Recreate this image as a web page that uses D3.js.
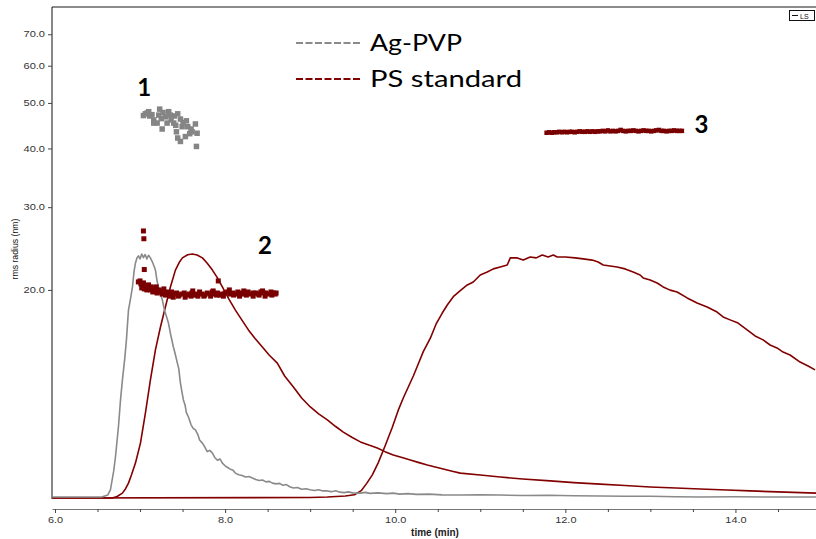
<!DOCTYPE html>
<html><head><meta charset="utf-8">
<script src="https://cdn.jsdelivr.net/npm/d3@7"></script>
<style>body{margin:0;background:#fff}svg{display:block}</style>
</head><body>
<svg id="c" width="816" height="539"></svg>
<script>
// ---- data ----
const xTicks = [6, 8, 10, 12, 14];
const xMinorTicks = [6.5, 7, 7.5, 8.5, 9, 9.5, 10.5, 11, 11.5, 12.5, 13, 13.5, 14.5];
const yTicks = [20, 30, 40, 50, 60, 70];
const seriesNames = ["Ag-PVP", "PS standard"];
const peakLabels = [{t: 7.05, r: 51.6, txt: "1"}, {t: 8.47, r: 23.9, txt: "2"}, {t: 13.6, r: 43.1, txt: "3"}];

// LS detector traces (time, normalised signal)
const agTime = [5.97,6.55,6.62,6.652,6.69,6.711,6.746,6.77,6.793,6.82,6.84,6.864,6.89,6.911,6.93,6.946,6.965,6.981,7.0,7.02,7.04,7.06,7.08,7.1,7.12,7.146,7.165,7.181,7.2,7.216,7.24,7.263,7.287,7.31,7.334,7.36,7.392,7.41,7.439,7.455,7.475,7.49,7.51,7.53,7.545,7.569,7.6,7.625,7.651,7.68,7.7,7.733,7.76,7.79,7.82,7.851,7.88,7.91,7.94,7.968,8.0,8.03,8.06,8.09,8.121,8.16,8.2,8.24,8.28,8.321,8.36,8.4,8.44,8.48,8.52,8.556,8.6,8.64,8.68,8.72,8.76,8.803,8.85,8.9,8.95,9.0,9.05,9.1,9.15,9.202,9.25,9.3,9.35,9.4,9.45,9.5,9.55,9.59,9.65,9.7,9.8,9.9,9.978,10.05,10.15,10.25,10.4,10.55,10.765,11.0,11.23,11.5,11.8,12.1,12.41,12.7,13.0,13.3,13.58,14.0,14.5,14.95];
const agSignal = [0.004,0.004,0.012,0.033,0.11,0.168,0.291,0.4,0.484,0.57,0.648,0.77,0.82,0.865,0.93,0.963,0.985,0.992,0.98,1.0,0.985,0.998,0.98,0.995,0.985,0.967,0.95,0.934,0.89,0.865,0.835,0.811,0.77,0.745,0.717,0.67,0.619,0.595,0.553,0.53,0.471,0.44,0.402,0.38,0.35,0.332,0.3,0.285,0.279,0.26,0.238,0.225,0.21,0.19,0.195,0.184,0.165,0.155,0.16,0.143,0.132,0.125,0.118,0.115,0.102,0.095,0.092,0.086,0.088,0.082,0.076,0.072,0.074,0.066,0.068,0.061,0.058,0.06,0.052,0.055,0.046,0.041,0.043,0.036,0.038,0.034,0.031,0.034,0.029,0.029,0.026,0.03,0.024,0.022,0.025,0.021,0.02,0.02,0.023,0.019,0.021,0.018,0.02,0.016,0.018,0.015,0.016,0.013,0.012,0.013,0.012,0.01,0.011,0.009,0.008,0.007,0.007,0.005,0.004,0.005,0.004,0.004];

const ps1Time = [5.97,6.675,6.73,6.793,6.83,6.864,6.9,6.946,7.005,7.063,7.122,7.181,7.24,7.298,7.357,7.416,7.46,7.498,7.56,7.615,7.67,7.733,7.79,7.851,7.91,7.968,8.04,8.121,8.2,8.274,8.35,8.438,8.52,8.614,8.7,8.803,8.9,9.002,9.1,9.202,9.3,9.39,9.49,9.59,9.69,9.789,9.88,9.977,10.08,10.177,10.28,10.377,10.47,10.565,10.67,10.765,11.0,11.235,11.5,11.822,12.1,12.41,12.7,12.997,13.3,13.585,13.9,14.173,14.5,14.948];
const ps1Signal = [0,0,0.006,0.02,0.038,0.061,0.095,0.143,0.225,0.348,0.484,0.607,0.701,0.783,0.865,0.934,0.965,0.984,0.997,1.0,0.996,0.984,0.962,0.934,0.902,0.865,0.818,0.77,0.728,0.689,0.655,0.619,0.585,0.553,0.5,0.455,0.41,0.373,0.345,0.32,0.293,0.27,0.249,0.23,0.217,0.205,0.19,0.176,0.166,0.156,0.145,0.135,0.127,0.119,0.11,0.102,0.094,0.086,0.078,0.07,0.063,0.057,0.051,0.045,0.041,0.037,0.033,0.029,0.025,0.02];

const ps2Time = [5.97,9.0,9.202,9.413,9.52,9.6,9.665,9.731,9.801,9.883,9.966,10.036,10.095,10.154,10.213,10.272,10.33,10.413,10.483,10.553,10.612,10.683,10.765,10.847,10.918,11.0,11.082,11.153,11.235,11.317,11.353,11.435,11.505,11.587,11.658,11.728,11.799,11.858,11.905,11.999,12.116,12.21,12.316,12.386,12.445,12.527,12.609,12.703,12.797,12.879,12.915,12.997,13.079,13.15,13.232,13.314,13.432,13.549,13.667,13.784,13.855,13.937,14.031,14.137,14.231,14.325,14.407,14.489,14.56,14.642,14.76,14.854,14.936];
const ps2Signal = [0,0.002,0.004,0.008,0.013,0.03,0.06,0.095,0.145,0.215,0.29,0.36,0.41,0.455,0.5,0.55,0.6,0.655,0.715,0.758,0.791,0.825,0.85,0.873,0.885,0.914,0.926,0.939,0.947,0.955,0.984,0.984,0.975,0.988,0.984,0.996,0.988,0.996,0.988,0.988,0.984,0.98,0.975,0.967,0.955,0.951,0.947,0.939,0.926,0.914,0.902,0.893,0.881,0.865,0.852,0.844,0.82,0.799,0.783,0.762,0.742,0.73,0.717,0.689,0.664,0.648,0.627,0.615,0.598,0.586,0.557,0.541,0.525];

// rms radius points (time, nm)
const agRms = [[7.063,47.4],[7.114,46.9],[7.161,46.0],[7.201,45.3],[7.231,48.5],[7.271,47.7],[7.298,46.7],[7.337,47.9],[7.365,46.0],[7.404,46.9],[7.443,47.4],[7.475,46.2],[7.506,45.4],[7.545,45.8],[7.561,44.5],[7.600,44.0],[7.651,45.1],[7.671,43.1],[7.584,43.0],[7.533,42.4],[7.443,42.1],[7.475,41.4],[7.612,43.4],[7.260,44.0],[7.663,40.4],[7.161,45.3],[7.318,45.3],[7.396,45.3],[7.102,47.9],[7.220,47.1],[7.357,47.1],[7.495,44.5],[7.428,43.4],[7.040,47.0],[7.085,47.6],[7.250,46.3],[7.140,47.2],[7.420,44.8]];
const psRms2 = [[6.98,20.8],[7.01,20.6],[7.04,20.7],[7.07,20.4],[7.10,20.5],[7.13,20.3],[7.16,20.2],[7.19,20.3],[7.22,20.0],[7.25,19.9],[7.28,20.1],[7.31,19.8],[7.34,19.7],[7.37,19.8],[7.40,19.6],[7.43,19.7],[7.46,19.5],[7.49,19.6],[7.52,19.7],[7.55,19.5],[7.58,19.6],[7.61,19.7],[7.64,19.5],[7.67,19.6],[7.70,19.8],[7.73,19.6],[7.76,19.5],[7.79,19.7],[7.82,19.6],[7.85,19.8],[7.88,19.6],[7.91,19.7],[7.94,19.5],[7.97,19.6],[8.00,19.7],[8.03,19.8],[8.06,19.6],[8.09,19.7],[8.12,19.6],[8.15,19.8],[8.18,19.7],[8.21,19.6],[8.24,19.7],[8.27,19.8],[8.30,19.6],[8.33,19.7],[8.36,19.7],[8.39,19.6],[8.42,19.8],[8.45,19.7],[8.48,19.7],[8.51,19.6],[8.54,19.8],[8.57,19.7],[8.60,19.7],[8.59,19.6],[7.00,20.9],[7.02,20.2],[7.05,20.1],[7.08,20.0],[7.12,20.0],[7.15,19.8],[7.20,19.7],[7.26,19.6],[7.30,19.5],[7.35,19.4],[7.45,19.4],[7.60,19.4],[7.75,19.4],[7.90,19.5],[8.10,19.5],[8.25,19.5],[8.40,19.5],[8.55,19.5],[7.03,20.4],[7.09,20.2],[7.17,20.0],[7.24,19.8],[7.39,19.3],[7.53,19.3],[7.68,19.4],[7.83,19.4],[7.98,19.4],[8.17,19.4],[8.33,19.4],[8.47,19.4],[7.62,19.9],[7.86,19.9],[8.05,20.0],[8.22,19.9],[8.44,19.9],[7.04,26.7],[7.045,25.7],[7.05,22.1],[7.92,20.9]];
const psRms3 = [[11.78,43.2],[11.81,43.3],[11.84,43.2],[11.87,43.3],[11.90,43.3],[11.93,43.4],[11.96,43.3],[11.99,43.4],[12.02,43.3],[12.05,43.4],[12.08,43.4],[12.11,43.3],[12.14,43.4],[12.17,43.5],[12.20,43.4],[12.23,43.4],[12.26,43.5],[12.29,43.4],[12.32,43.5],[12.35,43.4],[12.38,43.5],[12.41,43.5],[12.44,43.6],[12.47,43.5],[12.50,43.7],[12.53,43.5],[12.56,43.6],[12.59,43.5],[12.62,43.6],[12.65,43.8],[12.68,43.6],[12.71,43.5],[12.74,43.6],[12.77,43.6],[12.80,43.7],[12.83,43.6],[12.86,43.5],[12.89,43.6],[12.92,43.7],[12.95,43.6],[12.98,43.6],[13.01,43.5],[13.04,43.6],[13.07,43.7],[13.10,43.8],[13.13,43.6],[13.16,43.6],[13.19,43.5],[13.22,43.6],[13.25,43.6],[13.28,43.7],[13.31,43.6],[13.34,43.6],[13.37,43.6]];

// ---- drawing ----
const GRAY = "#8a8a8a", RED = "#820000";
const L = 52, R = 816, T = 7, B = 499, AX = 509;
const svg = d3.select("#c");
const x = d3.scaleLinear().domain([5.965, 14.947]).range([L, R]);
const yR = d3.scaleLog().domain([7.18, 80]).range([B, T]);
const yS = d3.scaleLinear().domain([0, 1]).range([498, 254]);

function stretch(sel, f) {
  sel.each(function(){ const w = this.getComputedTextLength(); d3.select(this).attr("textLength", w * f).attr("lengthAdjust", "spacingAndGlyphs"); });
}

svg.append("defs").append("clipPath").attr("id", "clip").append("rect")
  .attr("x", L).attr("y", T).attr("width", R - L).attr("height", B - T);

// frame
svg.append("line").attr("x1", L).attr("x2", R).attr("y1", T).attr("y2", T).attr("stroke", "#666").attr("stroke-width", 1.5);
svg.append("line").attr("x1", L).attr("x2", L).attr("y1", T).attr("y2", B).attr("stroke", "#111").attr("stroke-width", 1);

// y axis
const yAxis = svg.append("g").attr("transform", `translate(${L},0)`)
  .call(d3.axisLeft(yR).tickValues(yTicks).tickFormat(d3.format(".1f")).tickSize(4).tickPadding(3));
yAxis.select(".domain").remove();
yAxis.selectAll("line").attr("stroke", "#444");
yAxis.selectAll("text").attr("font-family", "Liberation Sans, Arial, sans-serif").attr("font-size", 8.5).attr("fill", "#333");
stretch(yAxis.selectAll("text"), 1.3);

svg.append("text").attr("transform", `translate(18,${249}) rotate(-90)`).attr("text-anchor", "middle")
  .attr("font-family", "Liberation Sans, Arial, sans-serif").attr("font-size", 8.7).attr("fill", "#111").text("rms radius (nm)");

// x axis
const xAxisG = svg.append("g").attr("transform", `translate(0,${AX})`)
  .call(d3.axisBottom(x).tickValues(xTicks).tickFormat(d3.format(".1f")).tickSize(4).tickSizeOuter(0).tickPadding(3));
xAxisG.select(".domain").attr("stroke", "#777").attr("stroke-width", 1.2);
xAxisG.selectAll("line").attr("stroke", "#444");
xAxisG.selectAll("text").attr("font-family", "Liberation Sans, Arial, sans-serif").attr("font-size", 9.5).attr("fill", "#333");
stretch(xAxisG.selectAll("text"), 1.15);
const xMinor = svg.append("g").attr("transform", `translate(0,${AX})`)
  .call(d3.axisBottom(x).tickValues(xMinorTicks).tickFormat("").tickSize(3).tickSizeOuter(0));
xMinor.select(".domain").remove();
xMinor.selectAll("line").attr("stroke", "#444");

svg.append("text").attr("x", 435).attr("y", 536).attr("text-anchor", "middle")
  .attr("font-family", "Liberation Sans, Arial, sans-serif").attr("font-weight", "bold").attr("font-size", 10).attr("fill", "#222").text("time (min)");

// LS traces
const plot = svg.append("g").attr("clip-path", "url(#clip)");
const line = d3.line().x(d => x(d[0])).y(d => yS(d[1]));
const traces = [
  {t: ps2Time, s: ps2Signal, c: RED},
  {t: ps1Time, s: ps1Signal, c: RED},
  {t: agTime, s: agSignal, c: GRAY}
];
traces.forEach(tr => {
  plot.append("path").datum(tr.t.map((t, i) => [t, tr.s[i]]))
    .attr("d", line).attr("fill", "none").attr("stroke", tr.c).attr("stroke-width", 1.6).attr("stroke-linejoin", "round");
});

// rms points
function squares(data, color, size) {
  plot.append("g").selectAll("rect").data(data).join("rect")
    .attr("x", d => x(d[0]) - size / 2).attr("y", d => yR(d[1]) - size / 2)
    .attr("width", size).attr("height", size).attr("fill", color);
}
squares(agRms, "#858585", 5.5);
squares(psRms2, "#7a0000", 5);
squares(psRms3, "#7a0000", 4.5);

// peak labels
svg.append("g").selectAll("text").data(peakLabels).join("text")
  .attr("x", d => x(d.t)).attr("y", d => yR(d.r)).attr("text-anchor", "middle")
  .attr("font-family", "Lato, Open Sans, sans-serif").attr("font-weight", "bold").attr("font-size", 24).attr("fill", "#000")
  .text(d => d.txt);

// legend
const legColors = [GRAY, RED];
const legW = [92, 152];
seriesNames.forEach((n, i) => {
  const yy = 43 + i * 36;
  svg.append("line").attr("x1", 296).attr("x2", 362).attr("y1", yy).attr("y2", yy)
    .attr("stroke", legColors[i]).attr("stroke-width", 2).attr("stroke-dasharray", "7,2.5");
  svg.append("text").attr("x", 370).attr("y", yy + 7.5).attr("font-family", "Lato, Open Sans, sans-serif")
    .attr("font-size", 23).attr("fill", "#000").attr("textLength", legW[i]).attr("lengthAdjust", "spacingAndGlyphs").text(n);
});

// LS key box
svg.append("rect").attr("x", 789.5).attr("y", 10.5).attr("width", 25).attr("height", 10).attr("fill", "#fff").attr("stroke", "#111").attr("stroke-width", 1);
svg.append("line").attr("x1", 792).attr("x2", 798).attr("y1", 15.5).attr("y2", 15.5).attr("stroke", "#111").attr("stroke-width", 1);
svg.append("text").attr("x", 800).attr("y", 18.5).attr("font-family", "Liberation Sans, Arial, sans-serif").attr("font-size", 7).attr("fill", "#111").text("LS");
</script>
</body></html>
